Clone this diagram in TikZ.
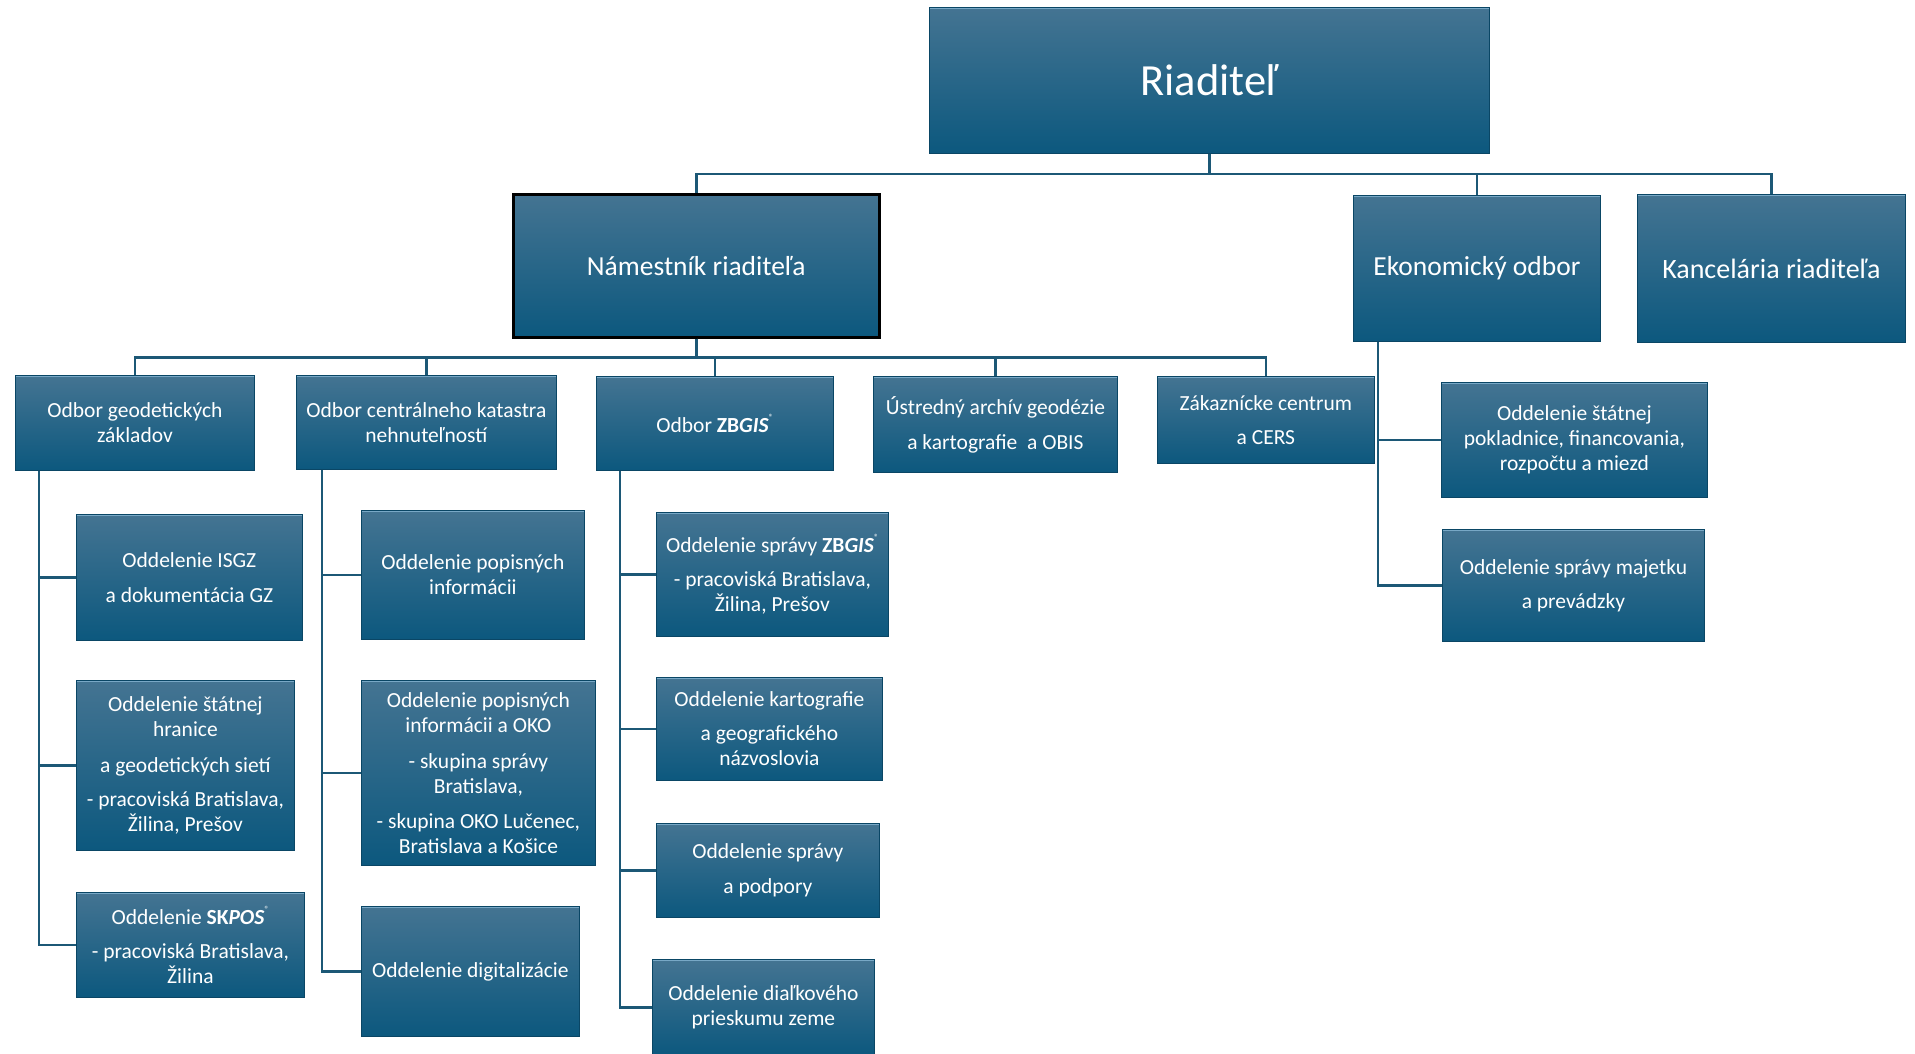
\documentclass[tikz,border=0pt]{standalone}
\usepackage{fontspec}
\setmainfont{Carlito}
\usetikzlibrary{positioning}

\definecolor{boxtop}{RGB}{68,116,146}
\definecolor{boxbot}{RGB}{12,88,126}
\definecolor{boxrim}{RGB}{120,168,198}
\definecolor{linkcol}{RGB}{28,88,118}

\newcommand{\regmark}{\raisebox{0.55em}{\fontsize{9}{9}\selectfont ®}}
\newcommand{\zbgis}{\textbf{ZB\textit{GIS}}\regmark}
\newcommand{\skpos}{\textbf{SK\textit{POS}}\regmark}

\begin{document}
\begin{tikzpicture}[x=1pt,y=-1pt,
	unit/.style={shade,top color=boxtop,bottom color=boxbot,draw=boxbot!80!black,
		line width=0.8pt,text=white,align=center,inner sep=0pt,anchor=north west,
		font=\fontsize{21.5}{25}\selectfont,
		path picture={\draw[boxrim,line width=4pt]
			(path picture bounding box.north west) -- (path picture bounding box.north east);}},
	boxsize/.style 2 args={minimum width=#1,minimum height=#2},
	head/.style={unit,font=\fontsize{27.5}{32}\selectfont},
	link/.style={draw=linkcol,line width=2.5pt},
	bus/.style={to path={-- ++(0,#1) -| (\tikztotarget)}},
	side/.style={to path={|- (\tikztotarget)}}]

	\useasboundingbox (0,0) rectangle (1915,1054);
	\clip (0,0) rectangle (1915,1054);

	% top
	\node[unit,boxsize={560pt}{146pt},font=\fontsize{44.5}{50}\selectfont] (riad) at (929,7) {Riaditeľ};
	\node[head,boxsize={366pt}{143pt},draw=black,line width=2.5pt] (nam) at (512,193) {Námestník riaditeľa};
	\node[head,boxsize={247pt}{146pt}] (ekon) at (1353,195) {Ekonomický odbor};
	\node[head,boxsize={268pt}{148pt},font=\fontsize{28}{32}\selectfont] (kanc) at (1637,194) {Kancelária riaditeľa};

	% odbory
	\node[unit,boxsize={239pt}{95pt}] (geo) at (15,375) {Odbor geodetických\\základov};
	\node[unit,boxsize={260pt}{94pt}] (cent) at (296,375) {Odbor centrálneho katastra\\nehnuteľností};
	\node[unit,boxsize={237pt}{94pt}] (zbgis) at (596,376) {Odbor \zbgis};
	\node[unit,boxsize={244pt}{96pt}] (arch) at (873,376) {Ústredný archív geodézie\\[10pt]a kartografie\ \ a OBIS};
	\node[unit,boxsize={217pt}{87pt}] (zak) at (1157,376) {Zákaznícke centrum\\[9pt]a CERS};

	% ekonomicky odbor
	\node[unit,boxsize={266pt}{115pt}] (pokl) at (1441,382) {Oddelenie štátnej\\pokladnice, financovania,\\rozpočtu a miezd};
	\node[unit,boxsize={262pt}{112pt}] (majet) at (1442,529) {Oddelenie správy majetku\\[9pt]a prevádzky};

	% geodeticke zaklady
	\node[unit,boxsize={226pt}{126pt}] (isgz) at (76,514) {Oddelenie ISGZ\\[10pt]a dokumentácia GZ};
	\node[unit,boxsize={218pt}{170pt}] (hran) at (76,680) {Oddelenie štátnej\\hranice\\[11pt]a geodetických sietí\\[9pt]- pracoviská Bratislava,\\Žilina, Prešov};
	\node[unit,boxsize={228pt}{105pt}] (skpos) at (76,892) {Oddelenie \skpos\\[9pt]- pracoviská Bratislava,\\Žilina};

	% kataster
	\node[unit,boxsize={223pt}{129pt}] (popis) at (361,510) {Oddelenie popisných\\informácii};
	\node[unit,boxsize={234pt}{185pt}] (oko) at (361,680) {Oddelenie popisných\\informácii a OKO\\[11pt]- skupina správy\\Bratislava,\\[10pt]- skupina OKO Lučenec,\\Bratislava a Košice};
	\node[unit,boxsize={218pt}{130pt}] (digit) at (361,906) {Oddelenie digitalizácie};

	% zbgis
	\node[unit,boxsize={232pt}{124pt}] (sprzb) at (656,512) {Oddelenie správy \zbgis\\[9pt]- pracoviská Bratislava,\\Žilina, Prešov};
	\node[unit,boxsize={226pt}{103pt}] (karto) at (656,677) {Oddelenie kartografie\\[9pt]a geografického\\názvoslovia};
	\node[unit,boxsize={223pt}{94pt}] (podp) at (656,823) {Oddelenie správy\\[10pt]a podpory};
	\node[unit,boxsize={222pt}{96pt}] (dialk) at (652,959) {Oddelenie diaľkového\\prieskumu zeme};

	\path[link]
	(riad.south) edge[bus=20] (nam.north)
	(riad.south) edge[bus=20] (ekon.north)
	(riad.south) edge[bus=20] (kanc.north)
	(nam.south) edge[bus=19] (geo.north)
	(nam.south) edge[bus=19] (cent.north)
	(nam.south) edge[bus=19] (zbgis.north)
	(nam.south) edge[bus=19] (arch.north)
	(nam.south) edge[bus=19] (zak.north)
	([xshift=25pt]ekon.south west) edge[side] (pokl.west)
	([xshift=25pt]ekon.south west) edge[side] (majet.west)
	([xshift=24pt]geo.south west) edge[side] (isgz.west)
	([xshift=24pt]geo.south west) edge[side] (hran.west)
	([xshift=24pt]geo.south west) edge[side] (skpos.west)
	([xshift=26pt]cent.south west) edge[side] (popis.west)
	([xshift=26pt]cent.south west) edge[side] (oko.west)
	([xshift=26pt]cent.south west) edge[side] (digit.west)
	([xshift=24pt]zbgis.south west) edge[side] (sprzb.west)
	([xshift=24pt]zbgis.south west) edge[side] (karto.west)
	([xshift=24pt]zbgis.south west) edge[side] (podp.west)
	([xshift=24pt]zbgis.south west) edge[side] (dialk.west);
\end{tikzpicture}
\end{document}
